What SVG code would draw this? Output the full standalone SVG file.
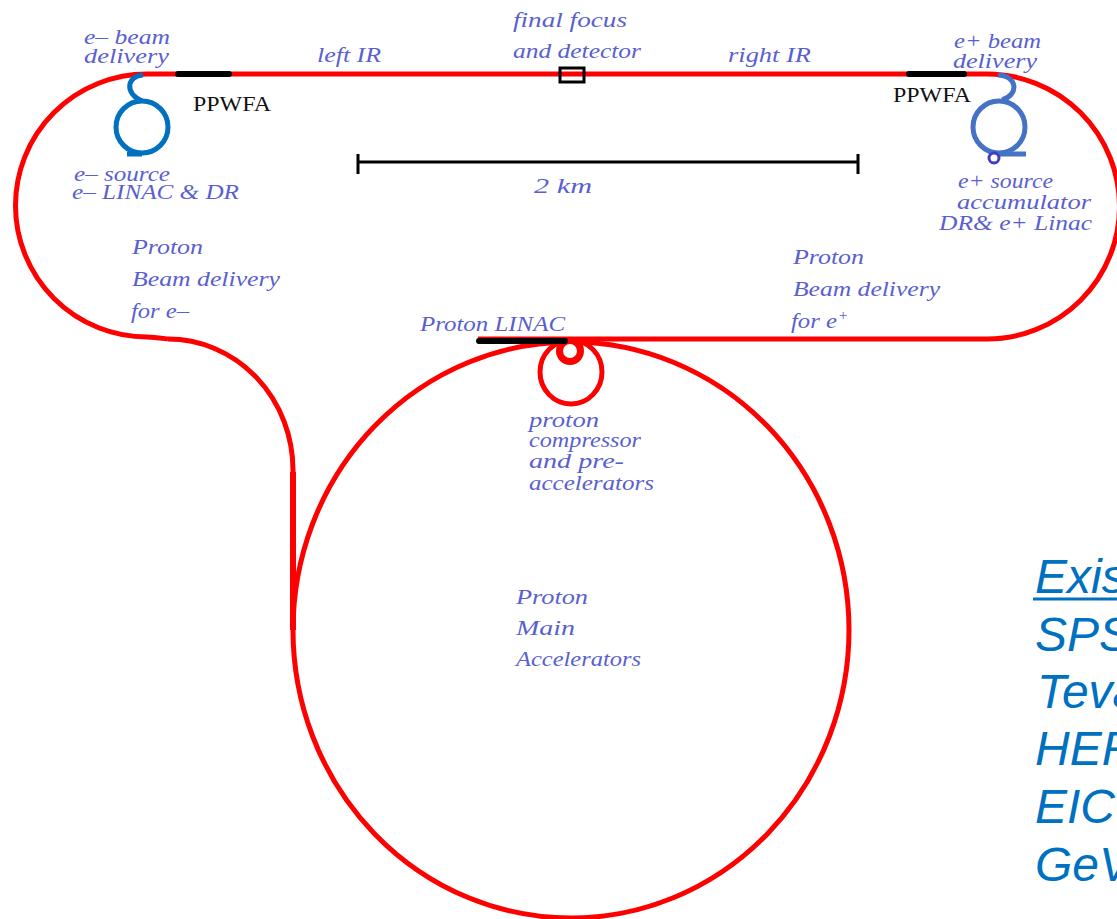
<svg xmlns="http://www.w3.org/2000/svg" width="1117" height="919" viewBox="0 0 1117 919">
<style>
.track{fill:none;stroke:#ff0000;stroke-width:5}
.bar{fill:none;stroke:#000;stroke-width:6;stroke-linecap:round}
.hand{font-family:"Liberation Serif","DejaVu Serif",serif;font-style:italic;font-size:21px;fill:#5a5fd0}
.ink{font-family:"Liberation Serif","DejaVu Serif",serif;font-size:21px;fill:#111}
.note{font-family:"Liberation Sans",Arial,sans-serif;font-style:italic;font-size:48px;fill:#0070c0}
</style>
<rect width="1117" height="919" fill="#fff"/>
<g id="connectors">
<path class="track" d="M168 339 C160 338 153 337 147 337 A131 131 0 0 1 147 74 L987 74 A132 132 0 0 1 987 339 L478 339"/>
<path class="track" d="M168 339 A125 131 0 0 1 293 470 L293 630"/>
<path d="M293 472 L293 630" fill="none" stroke="#ff0000" stroke-width="6"/>
<ellipse class="track" cx="571" cy="630" rx="278" ry="288"/>
</g>
<g id="proton-compressor">
<ellipse class="track" cx="571" cy="372" rx="31" ry="32"/>
<circle cx="570" cy="351" r="10.5" fill="#fff" stroke="#ff0000" stroke-width="7"/>
<text class="hand" x="529" y="427" textLength="70" lengthAdjust="spacingAndGlyphs">proton</text>
<text class="hand" x="529" y="447" textLength="112" lengthAdjust="spacingAndGlyphs">compressor</text>
<text class="hand" x="529" y="468" textLength="95" lengthAdjust="spacingAndGlyphs">and pre-</text>
<text class="hand" x="529" y="490" textLength="125" lengthAdjust="spacingAndGlyphs">accelerators</text>
</g>
<g id="proton-linac">
<path class="bar" d="M479 341 L565 341"/>
<text class="hand" x="420" y="331" textLength="145" lengthAdjust="spacingAndGlyphs">Proton LINAC</text>
</g>
<g id="electron-source">
<circle cx="142" cy="127" r="26" fill="none" stroke="#0070c0" stroke-width="5"/>
<path d="M143 75 C127 76 124 93 142 101 M127 154 L142 154" fill="none" stroke="#0070c0" stroke-width="5"/>
<text class="hand" x="74" y="181" textLength="96" lengthAdjust="spacingAndGlyphs">e– source</text>
<text class="hand" x="72" y="199" textLength="167" lengthAdjust="spacingAndGlyphs">e– LINAC &amp; DR</text>
</g>
<g id="electron-delivery">
<text class="hand" x="84" y="44" textLength="86" lengthAdjust="spacingAndGlyphs">e– beam</text>
<text class="hand" x="84" y="63" textLength="85" lengthAdjust="spacingAndGlyphs">delivery</text>
</g>
<g id="ppwfa-left">
<path class="bar" d="M178 74 L229 74"/>
<text class="ink" x="193" y="111" textLength="78" lengthAdjust="spacingAndGlyphs">PPWFA</text>
</g>
<g id="left-ir"><text class="hand" x="317" y="62" textLength="64" lengthAdjust="spacingAndGlyphs">left IR</text></g>
<g id="final-focus">
<rect x="560" y="68" width="24" height="14" fill="none" stroke="#000" stroke-width="3"/>
<text class="hand" x="513" y="27" textLength="114" lengthAdjust="spacingAndGlyphs">final focus</text>
<text class="hand" x="513" y="58" textLength="128" lengthAdjust="spacingAndGlyphs">and detector</text>
</g>
<g id="right-ir"><text class="hand" x="728" y="62" textLength="83" lengthAdjust="spacingAndGlyphs">right IR</text></g>
<g id="ppwfa-right">
<path class="bar" d="M909 74 L964 74"/>
<text class="ink" x="893" y="102" textLength="78" lengthAdjust="spacingAndGlyphs">PPWFA</text>
</g>
<g id="positron-delivery">
<text class="hand" x="954" y="48" textLength="87" lengthAdjust="spacingAndGlyphs">e+ beam</text>
<text class="hand" x="953" y="68" textLength="84" lengthAdjust="spacingAndGlyphs">delivery</text>
</g>
<g id="positron-source">
<circle cx="999" cy="127" r="26" fill="none" stroke="#4472c4" stroke-width="5"/>
<path d="M998 75 C1018 76 1019 95 1002 100 M1000 154 L1026 154" fill="none" stroke="#4472c4" stroke-width="5"/>
<circle cx="994" cy="158" r="5" fill="#fff" stroke="#3f3fbf" stroke-width="3"/>
<text class="hand" x="958" y="188" textLength="95" lengthAdjust="spacingAndGlyphs">e+ source</text>
<text class="hand" x="957" y="209" textLength="134" lengthAdjust="spacingAndGlyphs">accumulator</text>
<text class="hand" x="939" y="230" textLength="153" lengthAdjust="spacingAndGlyphs">DR&amp; e+ Linac</text>
</g>
<g id="scale">
<path d="M358 162 L858 162 M358 154 L358 174 M858 154 L858 174" fill="none" stroke="#000" stroke-width="3"/>
<text class="hand" x="534" y="193" textLength="58" lengthAdjust="spacingAndGlyphs">2 km</text>
</g>
<g id="proton-delivery-left">
<text class="hand" x="132" y="254" textLength="71" lengthAdjust="spacingAndGlyphs">Proton</text>
<text class="hand" x="132" y="286" textLength="148" lengthAdjust="spacingAndGlyphs">Beam delivery</text>
<text class="hand" x="131" y="318" textLength="58" lengthAdjust="spacingAndGlyphs">for e–</text>
</g>
<g id="proton-delivery-right">
<text class="hand" x="793" y="264" textLength="71" lengthAdjust="spacingAndGlyphs">Proton</text>
<text class="hand" x="793" y="296" textLength="147" lengthAdjust="spacingAndGlyphs">Beam delivery</text>
<text class="hand" x="791" y="328" textLength="46" lengthAdjust="spacingAndGlyphs">for e</text>
<text class="hand" x="838" y="320" font-size="15" style="font-size:15px">+</text>
</g>
<g id="proton-main">
<text class="hand" x="516" y="604" textLength="72" lengthAdjust="spacingAndGlyphs">Proton</text>
<text class="hand" x="516" y="635" textLength="59" lengthAdjust="spacingAndGlyphs">Main</text>
<text class="hand" x="516" y="666" textLength="125" lengthAdjust="spacingAndGlyphs">Accelerators</text>
</g>
<g id="notes">
<text class="note" x="1035" y="593">Exis</text>
<path d="M1033 599 L1117 599" stroke="#0070c0" stroke-width="3" fill="none"/>
<text class="note" x="1035" y="651">SPS</text>
<text class="note" x="1037" y="708">Teva</text>
<text class="note" x="1035" y="765">HER</text>
<text class="note" x="1035" y="823">EIC</text>
<text class="note" x="1035" y="881">GeV</text>
</g>
</svg>
